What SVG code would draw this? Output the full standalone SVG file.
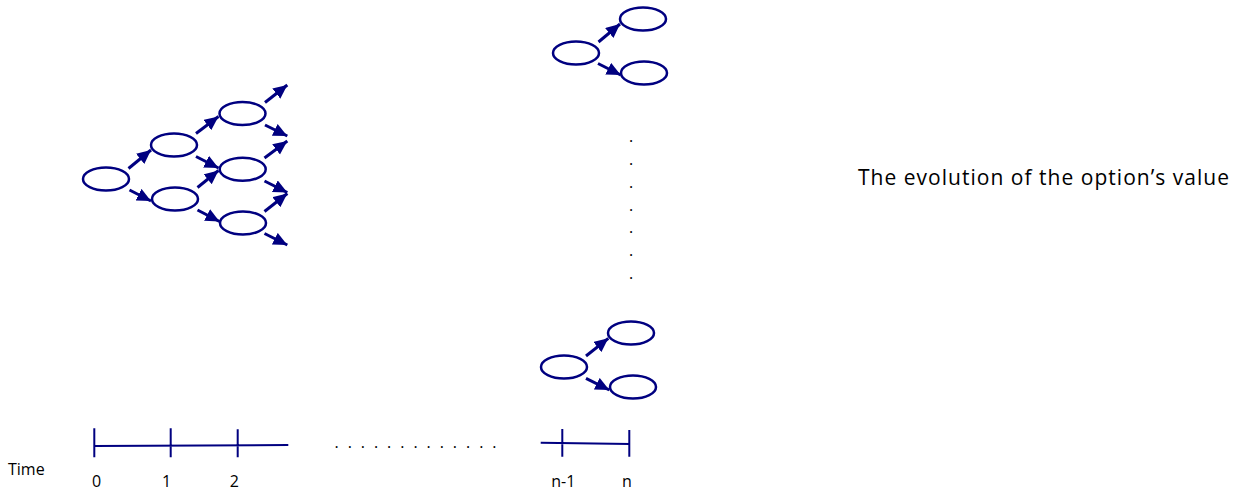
<svg xmlns="http://www.w3.org/2000/svg" width="1241" height="490" viewBox="0 0 1241 490">
<defs>
<style>
.node ellipse{fill:#fff;stroke:#000080;stroke-width:2.5}
.arr{stroke:#000080;stroke-width:3;fill:none;marker-end:url(#ah)}
.tl{stroke:#000080;stroke-width:2;fill:none}
.lbl{font-family:"Open Sans","Liberation Sans",Arial,sans-serif;font-size:16px;fill:#000}
</style>
<marker id="ah" markerUnits="userSpaceOnUse" markerWidth="15" markerHeight="14" refX="14" refY="6.5" orient="auto" viewBox="0 0 15 14">
<path d="M0,0 L14,6.5 L0,13 z" fill="#000080"/>
</marker>
</defs>
<rect width="1241" height="490" fill="#fff"/>
<g id="connectors">
<line class="arr" x1="128.5" y1="168.5" x2="151" y2="150"/>
<line class="arr" x1="129.5" y1="190" x2="151" y2="201"/>
<line class="arr" x1="196" y1="133.5" x2="218.5" y2="116.5"/>
<line class="arr" x1="196" y1="156.5" x2="218.5" y2="168"/>
<line class="arr" x1="197.5" y1="187.5" x2="218.5" y2="170.5"/>
<line class="arr" x1="197.5" y1="210" x2="219.5" y2="221.5"/>
<line class="arr" x1="265" y1="102.5" x2="287.3" y2="85"/>
<line class="arr" x1="265" y1="125" x2="287.3" y2="136"/>
<line class="arr" x1="264.5" y1="158" x2="287.3" y2="141"/>
<line class="arr" x1="264.5" y1="181" x2="287.3" y2="192.5"/>
<line class="arr" x1="264.5" y1="211.5" x2="287.3" y2="193.5"/>
<line class="arr" x1="264.5" y1="233.5" x2="287.3" y2="245"/>
<line class="arr" x1="598.5" y1="42" x2="620" y2="24"/>
<line class="arr" x1="598" y1="63.5" x2="620.7" y2="75"/>
<line class="arr" x1="586" y1="356" x2="608.3" y2="338.3"/>
<line class="arr" x1="586" y1="378.3" x2="609.3" y2="390"/>
</g>
<g id="nA" class="node"><ellipse cx="106" cy="179" rx="23" ry="11.5"/></g>
<g id="nB" class="node"><ellipse cx="174" cy="145" rx="23" ry="11.5"/></g>
<g id="nC" class="node"><ellipse cx="175" cy="199" rx="23" ry="11.5"/></g>
<g id="nD" class="node"><ellipse cx="242.5" cy="113.5" rx="23" ry="11.5"/></g>
<g id="nE" class="node"><ellipse cx="242.7" cy="169.3" rx="23" ry="11.5"/></g>
<g id="nF" class="node"><ellipse cx="243" cy="223" rx="23" ry="11.5"/></g>
<g id="nG" class="node"><ellipse cx="576" cy="53" rx="23" ry="11.5"/></g>
<g id="nH" class="node"><ellipse cx="643" cy="19" rx="23" ry="11.5"/></g>
<g id="nI" class="node"><ellipse cx="644" cy="73" rx="23" ry="11.5"/></g>
<g id="nJ" class="node"><ellipse cx="564" cy="367" rx="23" ry="11.5"/></g>
<g id="nK" class="node"><ellipse cx="631" cy="333" rx="23" ry="11.5"/></g>
<g id="nL" class="node"><ellipse cx="633" cy="387" rx="23" ry="11.5"/></g>
<g id="vdots">
<text class="lbl" x="631" y="142" text-anchor="middle">.</text>
<text class="lbl" x="631" y="165" text-anchor="middle">.</text>
<text class="lbl" x="631" y="188" text-anchor="middle">.</text>
<text class="lbl" x="631" y="211" text-anchor="middle">.</text>
<text class="lbl" x="631" y="233" text-anchor="middle">.</text>
<text class="lbl" x="631" y="256" text-anchor="middle">.</text>
<text class="lbl" x="631" y="279" text-anchor="middle">.</text>
</g>
<g id="timeline">
<path class="tl" d="M94.3,446 L288.3,445 M94.3,428.3 V457.3 M170.7,428.3 V457.3 M237.7,429.3 V457.3"/>
<path class="tl" d="M540.7,442.7 L630,444 M562.3,429 V456.7 M629.3,430 V456.7"/>
<text class="lbl" x="334.5" y="448" textLength="162" lengthAdjust="spacing">. . . . . . . . . . . . .</text>
<text class="lbl" x="8" y="475">Time</text>
<text class="lbl" x="96.7" y="487" text-anchor="middle">0</text>
<text class="lbl" x="166.7" y="487" text-anchor="middle">1</text>
<text class="lbl" x="234.3" y="487" text-anchor="middle">2</text>
<text class="lbl" x="563.3" y="487" text-anchor="middle">n-1</text>
<text class="lbl" x="627" y="487" text-anchor="middle">n</text>
</g>
<text id="title" x="858" y="185" style="font-family:'Open Sans','Liberation Sans',Arial,sans-serif;font-size:21px;fill:#000" textLength="371" lengthAdjust="spacing">The evolution of the option’s value</text>
</svg>
